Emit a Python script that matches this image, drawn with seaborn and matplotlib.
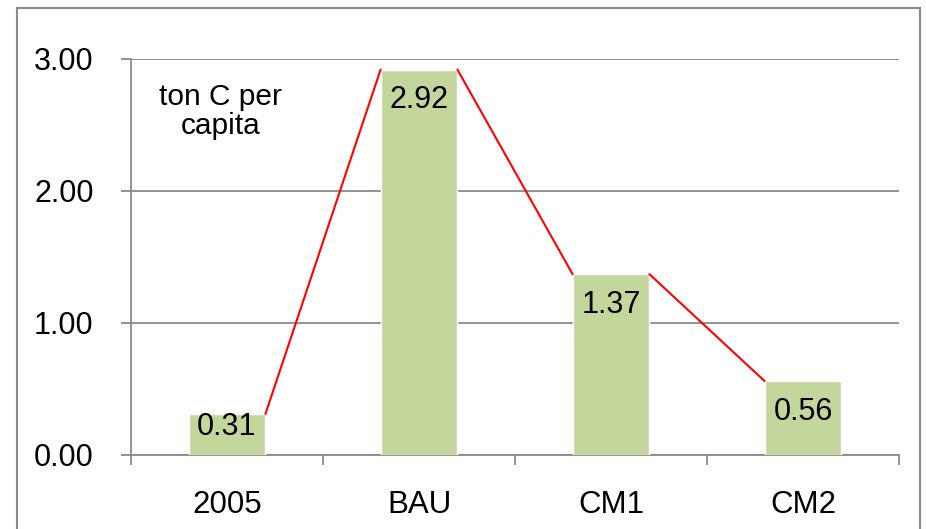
import matplotlib
matplotlib.use("Agg")
import matplotlib.pyplot as plt
from matplotlib.patches import Rectangle
import seaborn as sns
import pandas as pd

scenarios = ["2005", "BAU", "CM1", "CM2"]
per_capita = [0.31, 2.92, 1.37, 0.56]
ytick_vals = [0.0, 1.0, 2.0, 3.0]
note = "ton C per\ncapita"

sns.set_style("white")
plt.rcParams["font.family"] = ["Liberation Sans", "DejaVu Sans"]
plt.rcParams["text.color"] = "black"
plt.rcParams["xtick.color"] = "black"
plt.rcParams["ytick.color"] = "black"

df = pd.DataFrame({"scenario": scenarios, "value": per_capita})

fig = plt.figure(figsize=(9.26, 5.29), dpi=100)
ax = fig.add_axes([131 / 926, 1 - 455 / 529, (899 - 131) / 926, (455 - 59) / 529])

bw = 0.4
sns.barplot(data=df, x="scenario", y="value", color="#c3d69b", width=bw,
            saturation=1, ax=ax, zorder=3)

# red connectors: right top corner of one bar to left top corner of the next
for i in range(len(per_capita) - 1):
    ax.plot([i + bw / 2, i + 1 - bw / 2], [per_capita[i], per_capita[i + 1]],
            color="red", lw=1.5, zorder=4)

# value labels inside the bars
for i, v in enumerate(per_capita):
    off = -22 if v > 0.5 else -9
    ax.annotate(f"{v:.2f}", (i, v), xytext=(0, off), textcoords="offset points",
                ha="center", va="center", fontsize=22, color="black", zorder=5)

ax.set_ylim(0, 3)
ax.set_xlim(-0.5, len(scenarios) - 0.5)
ax.set_yticks(ytick_vals)
ax.set_yticklabels([f"{t:.2f}" for t in ytick_vals])
ax.yaxis.grid(True, color="#8a8a8a", lw=1.3)
ax.set_axisbelow(True)

# category boundaries as major ticks, names on minor ticks
ax.set_xticks([i - 0.5 for i in range(len(scenarios) + 1)])
ax.set_xticklabels([])
ax.set_xticks(range(len(scenarios)), minor=True)
ax.set_xticklabels(scenarios, minor=True)
ax.tick_params(axis="x", which="major", length=7, width=1.3, color="#8a8a8a", direction="out", bottom=True)
ax.tick_params(axis="x", which="minor", length=0, pad=25, labelsize=22.5, labelcolor="black")
ax.tick_params(axis="y", length=7, width=1.3, color="#8a8a8a", direction="out", left=True, pad=20,
               labelsize=22, labelcolor="black")
ax.set_xlabel("")
ax.set_ylabel("")

for s in ["top", "right"]:
    ax.spines[s].set_visible(False)
for s in ["left", "bottom"]:
    ax.spines[s].set_color("#8a8a8a")
    ax.spines[s].set_linewidth(1.3)

ax.text(0.117, 0.94, note, transform=ax.transAxes, fontsize=21.5, va="top", ha="center",
        multialignment="center", linespacing=1.05, color="black")

# outer chart frame
fig.patches.append(Rectangle((17 / 926, -0.05), (920 - 17) / 926, 1.05 - 8 / 529,
                             transform=fig.transFigure, fill=False,
                             edgecolor="#8a8a8a", lw=1.5))

fig.savefig("out.png", dpi=100)
